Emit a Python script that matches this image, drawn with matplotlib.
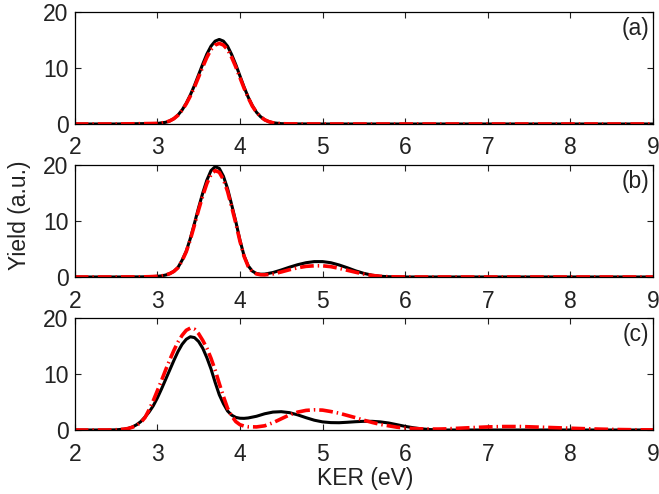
import matplotlib
matplotlib.use("Agg")
import matplotlib.pyplot as plt

plt.rcParams['font.family'] = ['Liberation Sans', 'DejaVu Sans']

# ---- panel (a) ----
x_a = [2.0, 2.5, 3.0, 3.1, 3.15, 3.2, 3.25, 3.3, 3.35, 3.4, 3.45, 3.5, 3.55, 3.6,
       3.65, 3.7, 3.75, 3.8, 3.85, 3.9, 3.95, 4.0, 4.05, 4.1, 4.15, 4.2, 4.25,
       4.3, 4.35, 4.4, 4.5, 4.6, 5.0, 6.0, 7.0, 8.0, 9.0]
black_a = [0.0, 0.0, 0.1, 0.3, 0.55, 0.95, 1.6, 2.5, 3.7, 5.2, 6.9, 8.8, 10.7, 12.5,
           13.9, 14.8, 15.1, 14.8, 13.9, 12.4, 10.6, 8.6, 6.6, 4.8, 3.3, 2.1, 1.3,
           0.75, 0.42, 0.22, 0.06, 0.02, 0.0, 0.0, 0.0, 0.0, 0.0]
red_a = [0.0, 0.0, 0.1, 0.3, 0.55, 0.95, 1.55, 2.45, 3.6, 5.0, 6.6, 8.4, 10.2, 11.9,
         13.3, 14.1, 14.4, 14.1, 13.3, 11.9, 10.2, 8.3, 6.4, 4.7, 3.2, 2.1, 1.3,
         0.75, 0.42, 0.22, 0.06, 0.02, 0.0, 0.0, 0.0, 0.0, 0.0]

# ---- panel (b) ----
x_b = [2.0, 2.5, 2.8, 2.9, 3.0, 3.05, 3.1, 3.15, 3.2, 3.25, 3.3, 3.35, 3.4, 3.45,
       3.5, 3.55, 3.6, 3.65, 3.7, 3.75, 3.8, 3.85, 3.9, 3.95, 4.0, 4.05, 4.1,
       4.15, 4.2, 4.25, 4.3, 4.4, 4.5, 4.6, 4.7, 4.8, 4.9, 5.0, 5.1, 5.2, 5.3,
       5.4, 5.5, 5.6, 5.7, 5.8, 5.9, 6.0, 7.0, 8.0, 9.0]
black_b = [0.0, 0.0, 0.02, 0.05, 0.12, 0.2, 0.35, 0.6, 1.0, 1.7, 3.0, 4.6, 6.9, 9.6,
           12.4, 15.0, 17.3, 19.0, 19.7, 19.4, 18.0, 15.8, 12.9, 9.9, 6.6, 3.8, 2.0,
           1.05, 0.62, 0.5, 0.52, 0.8, 1.25, 1.75, 2.2, 2.55, 2.75, 2.75, 2.55, 2.15, 1.65,
           1.1, 0.65, 0.32, 0.13, 0.05, 0.02, 0.0, 0.0, 0.0, 0.0]
red_b = [0.0, 0.0, 0.02, 0.05, 0.12, 0.2, 0.35, 0.6, 1.0, 1.65, 2.9, 4.5, 6.7, 9.3,
         12.0, 14.5, 16.7, 18.3, 19.0, 18.7, 17.4, 15.3, 12.5, 9.6, 6.4, 3.7, 1.9,
         0.95, 0.55, 0.4, 0.38, 0.55, 0.9, 1.3, 1.65, 1.9, 2.0, 2.0, 1.85, 1.55, 1.2,
         0.85, 0.52, 0.28, 0.12, 0.05, 0.02, 0.0, 0.0, 0.0, 0.0]

# ---- panel (c) ----
x_c = [2.0, 2.4, 2.5, 2.6, 2.65, 2.7, 2.75, 2.8, 2.85, 2.9, 2.95, 3.0, 3.05, 3.1,
       3.15, 3.2, 3.25, 3.3, 3.35, 3.4, 3.45, 3.5, 3.55, 3.6, 3.65, 3.7, 3.75,
       3.8, 3.85, 3.9, 3.95, 4.0, 4.05, 4.1, 4.2, 4.3, 4.4, 4.5, 4.6, 4.7, 4.8,
       4.9, 5.0, 5.1, 5.2, 5.3, 5.4, 5.5, 5.6, 5.7, 5.8, 5.9, 6.0, 6.1, 6.2, 6.3,
       6.4, 6.5, 6.6, 6.8, 7.0, 7.2, 7.4, 7.6, 7.8, 8.0, 8.2, 8.4, 8.6, 8.8, 9.0]
black_c = [0.0, 0.0, 0.03, 0.15, 0.3, 0.55, 0.95, 1.5, 2.3, 3.2, 4.3, 5.7, 7.3, 9.0,
           10.7, 12.4, 14.0, 15.3, 16.2, 16.65, 16.5, 15.8, 14.6, 12.9, 10.9, 8.5, 6.3,
           4.7, 3.4, 2.65, 2.25, 2.1, 2.08, 2.15, 2.45, 2.9, 3.2, 3.27, 3.1, 2.7, 2.2,
           1.75, 1.45, 1.32, 1.3, 1.38, 1.48, 1.55, 1.55, 1.45, 1.25, 0.95, 0.65, 0.4, 0.2, 0.08,
           0.03, 0.0, 0.0, 0.0, 0.0, 0.0, 0.0, 0.0, 0.0, 0.0, 0.0, 0.0, 0.0, 0.0, 0.0]
red_c = [0.0, 0.0, 0.05, 0.15, 0.28, 0.5, 0.85, 1.35, 2.2, 3.6, 5.2, 7.0, 8.8, 10.7,
         12.5, 14.2, 15.7, 16.9, 17.8, 18.2, 18.0, 17.2, 16.0, 14.6, 12.8, 10.7, 8.3,
         6.0, 3.9, 2.5, 1.5, 0.95, 0.7, 0.58, 0.55, 0.75, 1.3, 2.0, 2.7, 3.2, 3.5,
         3.6, 3.55, 3.3, 3.0, 2.6, 2.2, 1.75, 1.35, 1.0, 0.75, 0.5, 0.35, 0.25, 0.2, 0.17,
         0.17, 0.2, 0.28, 0.42, 0.55, 0.62, 0.62, 0.52, 0.42, 0.32, 0.22, 0.14, 0.08, 0.04, 0.02]

panels = [(x_a, black_a, red_a, '(a)'),
          (x_b, black_b, red_b, '(b)'),
          (x_c, black_c, red_c, '(c)')]

x_ticks = [2, 3, 4, 5, 6, 7, 8, 9]
y_ticks = [0, 10, 20]

fig = plt.figure(figsize=(6.59, 4.94), dpi=100)
W, H = 659.0, 494.0
left, right = 74.7, 653.0
tops = [12, 165, 318]
height = 112

for (xs, yb, yr, tag), top in zip(panels, tops):
    ax = fig.add_axes([left / W, 1 - (top + height) / H, (right - left) / W, height / H])
    ax.plot(xs, yb, color='black', lw=2.2, solid_capstyle='round')
    ax.plot(xs, yr, color='#ff0000', lw=2.6, linestyle=(0, (3.8, 1.1, 0.4, 1.1)))
    ax.set_xlim(2, 9)
    ax.set_ylim(0, 20)
    ax.set_xticks(x_ticks)
    ax.set_yticks(y_ticks)
    ax.tick_params(direction='in', top=True, right=True, length=4, width=0.8,
                   labelsize=16.5, colors='#222222')
    ax.tick_params(axis='x', pad=9)
    ax.tick_params(axis='y', pad=4.5)
    for s in ax.spines.values():
        s.set_linewidth(0.9)
        s.set_color('black')
    ax.text(0.993, 0.955, tag, transform=ax.transAxes, ha='right', va='top',
            fontsize=16.5, color='#222222')

fig.text(20 / W, 1 - 215 / H, 'Yield (a.u.)', rotation=90, ha='center', va='center',
         fontsize=16.5, color='#222222')
fig.text(365 / W, 1 - 478 / H, 'KER (eV)', ha='center', va='center',
         fontsize=16.5, color='#222222')

fig.savefig('out.png', dpi=100)
